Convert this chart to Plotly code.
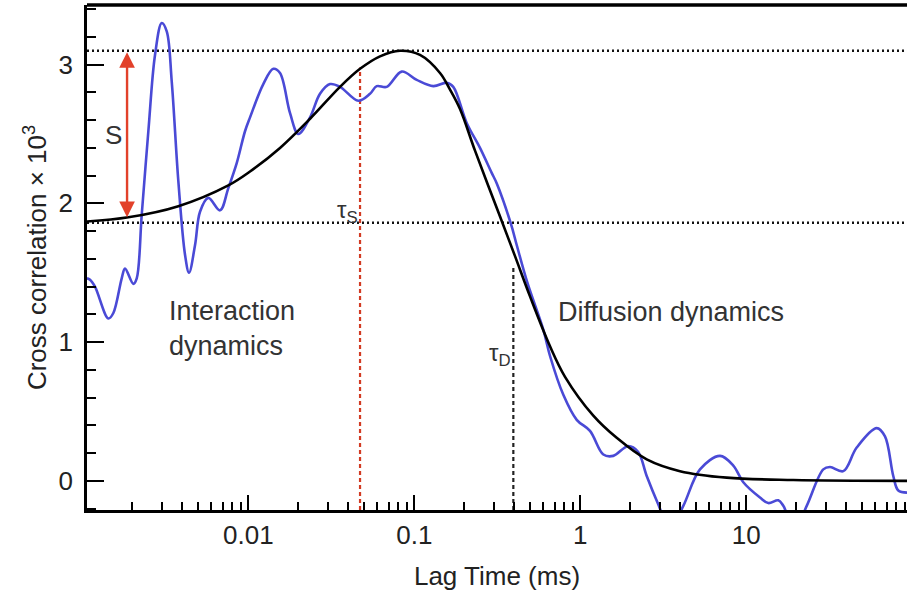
import math
import plotly.graph_objects as go

# ---------------- data ----------------
# measured cross-correlation (blue), lag time in ms, value x 10^3
blue_t = [0.001067, 0.001113, 0.001192, 0.001435, 0.001538, 0.001727, 0.001808,
          0.002029, 0.002127, 0.002280, 0.002499, 0.002741, 0.003008, 0.003225,
          0.003456, 0.003788, 0.004156, 0.004394, 0.004776, 0.005117, 0.005741,
          0.006753, 0.007577, 0.008514, 0.009552, 0.01024, 0.01231, 0.01415,
          0.01552, 0.01784, 0.02001, 0.02354, 0.02703, 0.03106, 0.03568, 0.04599,
          0.05408, 0.05936, 0.06821, 0.08398, 0.1034, 0.1302, 0.1567, 0.1717,
          0.2068, 0.2487, 0.2925, 0.3135, 0.3824, 0.4139, 0.4794, 0.5985, 0.6570,
          0.7902, 0.9513, 1.144, 1.376, 1.580, 1.938, 2.227, 2.512, 2.951, 3.470,
          4.174, 5.261, 6.944, 8.350, 9.592, 12.09, 13.57, 15.59, 16.71, 19.65,
          23.12, 29.10, 31.93, 38.40, 46.25, 61.05, 68.47, 76.82, 82.35, 92.92]
blue_y = [1.46, 1.45, 1.40, 1.17, 1.21, 1.46, 1.53,
          1.42, 1.46, 1.92, 2.52, 3.07, 3.30, 3.24,
          2.88, 2.16, 1.63, 1.50, 1.70, 1.94, 2.04,
          1.95, 2.11, 2.29, 2.52, 2.62, 2.86, 2.97,
          2.94, 2.65, 2.50, 2.62, 2.79, 2.86, 2.84, 2.74,
          2.79, 2.845, 2.84, 2.95, 2.89, 2.845, 2.87, 2.84,
          2.58, 2.40, 2.22, 2.145, 1.85, 1.70, 1.43, 1.09, 0.90,
          0.62, 0.44, 0.36, 0.19, 0.18, 0.25, 0.21, 0.035, -0.17, -0.35,
          -0.18, 0.083, 0.18, 0.11, -0.01, -0.12, -0.16, -0.14, -0.18, -0.35,
          -0.18, 0.083, 0.10, 0.07, 0.24, 0.38, 0.32, 0.035, -0.07, -0.085]

# model fit (black)
fit_t = [0.001067, 0.001893, 0.003788, 0.007577, 0.01024, 0.01552, 0.02354,
         0.03568, 0.04710, 0.06215, 0.08202, 0.1082, 0.1428, 0.1641, 0.1885,
         0.2321, 0.3284, 0.4043, 0.4977, 0.6570, 0.8089, 1.198, 1.657, 2.512,
         3.987, 7.618, 19.19, 92.92]
fit_y = [1.87, 1.90, 1.98, 2.13, 2.23, 2.40, 2.61,
         2.84, 2.97, 3.06, 3.10, 3.07, 2.94, 2.82, 2.68,
         2.38, 1.905, 1.62, 1.33, 0.97, 0.75, 0.47, 0.31, 0.155,
         0.07, 0.023, 0.006, 0.0]

# reference levels and characteristic times
level_peak = 3.10
level_base = 1.86
tau_s = 0.0471
tau_s_top = 2.98
tau_d = 0.395
tau_d_top = 1.54
arrow_t = 0.00186

x_min, x_max = 0.001067, 92.92
y_min, y_max = -0.21, 3.43

major_x = [0.01, 0.1, 1, 10]
major_x_text = ["0.01", "0.1", "1", "10"]
minor_x = [m * 10.0 ** e for e in range(-3, 2) for m in range(2, 10)]
major_y = [0, 1, 2, 3]

BLUE = "#4a4ad6"
RED = "#d23a22"
ARROW_RED = "#e2412a"
FONT = "Liberation Sans, Arial, sans-serif"

fig = go.Figure()

# horizontal dotted reference lines
for lv in (level_peak, level_base):
    fig.add_trace(go.Scatter(x=[x_min, x_max], y=[lv, lv], mode="lines",
                             line=dict(color="#111", width=2.5, dash="2px,3px"),
                             hoverinfo="skip", showlegend=False))

# vertical dashed lines at tau_s and tau_d
fig.add_trace(go.Scatter(x=[tau_s, tau_s], y=[y_min, tau_s_top], mode="lines",
                         line=dict(color=RED, width=2.2, dash="4px,3px"),
                         hoverinfo="skip", showlegend=False))
fig.add_trace(go.Scatter(x=[tau_d, tau_d], y=[y_min, tau_d_top], mode="lines",
                         line=dict(color="#222", width=2.2, dash="4px,3px"),
                         hoverinfo="skip", showlegend=False))

# data and fit
fig.add_trace(go.Scatter(x=blue_t, y=blue_y, mode="lines",
                         line=dict(color=BLUE, width=2.6, shape="spline", smoothing=1.0),
                         showlegend=False))
fig.add_trace(go.Scatter(x=fit_t, y=fit_y, mode="lines",
                         line=dict(color="black", width=2.6, shape="spline", smoothing=1.0),
                         showlegend=False))

ann = []
# double-headed arrow S
ann.append(dict(x=math.log10(arrow_t), y=level_peak - 0.01, ax=math.log10(arrow_t), ay=level_base + 0.03,
                xref="x", yref="y", axref="x", ayref="y", text="", showarrow=True,
                arrowhead=2, startarrowhead=2, arrowside="end+start", arrowsize=1.3,
                startarrowsize=1.3, arrowwidth=2.4, arrowcolor=ARROW_RED, standoff=0, startstandoff=0))
ann.append(dict(x=math.log10(0.00155), y=2.49, xref="x", yref="y", text="S", showarrow=False,
                font=dict(size=26, color="#333", family=FONT), xanchor="center", yanchor="middle"))
ann.append(dict(x=math.log10(tau_s), y=1.94, xref="x", yref="y", text="τ<sub>S</sub>", showarrow=False,
                font=dict(size=24, color="#333", family=FONT), xanchor="right", yanchor="middle"))
ann.append(dict(x=math.log10(tau_d), y=0.91, xref="x", yref="y", text="τ<sub>D</sub>", showarrow=False,
                font=dict(size=24, color="#333", family=FONT), xanchor="right", yanchor="middle"))
ann.append(dict(x=math.log10(0.00324), y=1.10, xref="x", yref="y", text="Interaction<br>dynamics",
                showarrow=False, align="left",
                font=dict(size=27, color="#333", family=FONT), xanchor="left", yanchor="middle"))
ann.append(dict(x=math.log10(0.714), y=1.22, xref="x", yref="y", text="Diffusion dynamics",
                showarrow=False, align="left",
                font=dict(size=27, color="#333", family=FONT), xanchor="left", yanchor="middle"))

fig.update_layout(
    width=907, height=592,
    margin=dict(l=87, r=0, t=5, b=82),
    paper_bgcolor="white", plot_bgcolor="white",
    font=dict(family=FONT, size=26, color="#222"),
    annotations=ann,
    shapes=[dict(type="line", xref="paper", yref="paper", x0=0, x1=1, y0=1, y1=1,
                 line=dict(color="black", width=3.5))],
)

fig.update_xaxes(
    type="log", range=[math.log10(x_min), math.log10(x_max)],
    tickmode="array", tickvals=major_x, ticktext=major_x_text,
    ticks="inside", ticklen=15, tickwidth=2, tickcolor="black",
    minor=dict(tickmode="array", tickvals=minor_x, ticks="inside", ticklen=8,
               tickwidth=1.6, tickcolor="black", showgrid=False),
    showline=True, linewidth=2.5, linecolor="black",
    showgrid=False, zeroline=False, ticklabelstandoff=0,
    title=dict(text="Lag Time (ms)", standoff=18, font=dict(size=26, family=FONT, color="#222")),
)
fig.update_yaxes(
    range=[y_min, y_max],
    tickmode="array", tickvals=major_y,
    ticks="inside", ticklen=17, tickwidth=2, tickcolor="black",
    minor=dict(dtick=0.2, ticks="inside", ticklen=9, tickwidth=1.6, tickcolor="black",
               showgrid=False),
    showline=True, linewidth=2.5, linecolor="black",
    showgrid=False, zeroline=False, ticklabelstandoff=6,
    title=dict(text="Cross correlation × 10<sup>3</sup>", standoff=5,
               font=dict(size=26, family=FONT, color="#222")),
)

fig.write_html("out.html")
